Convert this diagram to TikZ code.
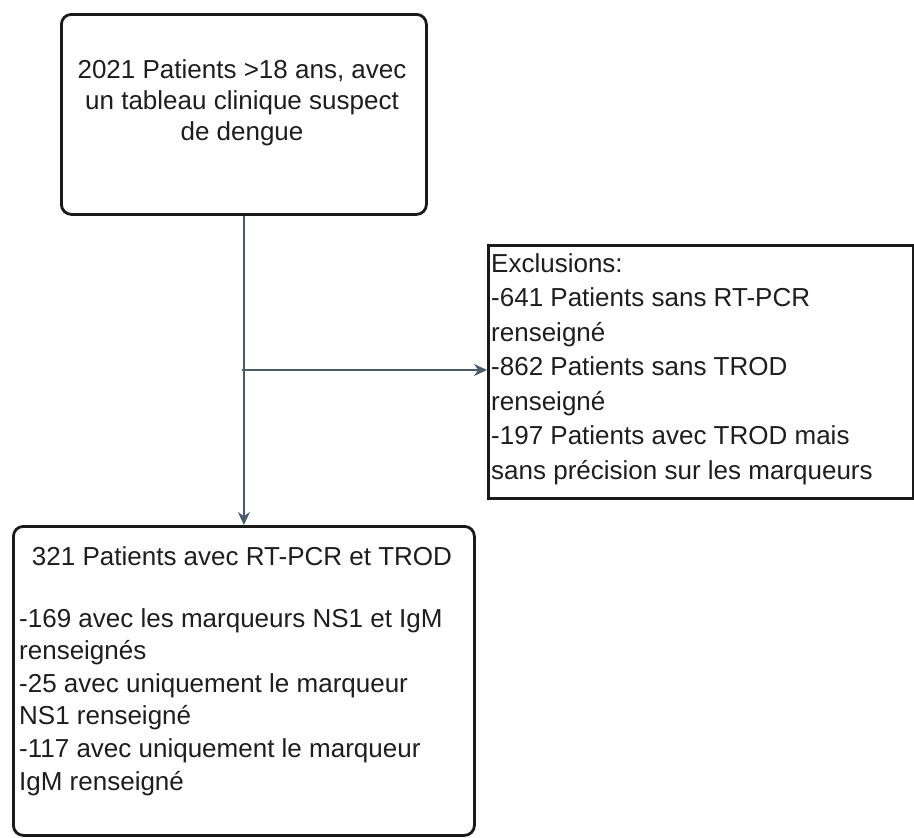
\documentclass[tikz,border=0pt]{standalone}
\usepackage{fontspec}
\setmainfont{Liberation Sans}
\usetikzlibrary{arrows.meta}
\definecolor{connc}{HTML}{4A5B6B}
\definecolor{boxc}{HTML}{1A1A1A}
\definecolor{txtc}{HTML}{1E1E1E}
\begin{document}
\begin{tikzpicture}[x=1pt,y=-1pt,
  boxline/.style={draw=boxc, line width=2.8pt, inner sep=0pt, fill=white},
  conn/.style={draw=connc, line width=1.8pt, -{Stealth[length=13pt,width=12pt]}},
  txt/.style={font=\fontsize{26}{31}\selectfont, inner sep=0pt, text=txtc}]
\useasboundingbox[fill=white] (0,0) rectangle (914,838);
% boxes
\node[boxline, rounded corners=10pt, minimum width=365pt, minimum height=200pt, anchor=north west] (top) at (60,13) {};
\node[boxline, minimum width=425pt, minimum height=253pt, anchor=north west] (excl) at (487,244) {};
\node[boxline, rounded corners=10pt, minimum width=461pt, minimum height=309pt, anchor=north west] (bot) at (12,525) {};
% texts
\node[txt, align=center, anchor=north] (toptxt) at (242,59)
  {2021 Patients >18 ans, avec\\un tableau clinique suspect\\de dengue};
\node[txt, font=\fontsize{26}{34.5}\selectfont, align=left, anchor=north west] (excltxt) at (491,253)
  {Exclusions:\\-641 Patients sans RT-PCR\\renseigné\\-862 Patients sans TROD\\renseigné\\-197 Patients avec TROD mais\\sans précision sur les marqueurs};
\node[txt, anchor=north] (bottitle) at (242,546) {321 Patients avec RT-PCR et TROD};
\node[txt, font=\fontsize{26}{32.6}\selectfont, align=left, anchor=north west] (botlist) at (19,608)
  {-169 avec les marqueurs NS1 et IgM\\renseignés\\-25 avec uniquement le marqueur\\NS1 renseigné\\-117 avec uniquement le marqueur\\IgM renseigné};
% connectors
\coordinate (j) at (242,370);
\draw[conn] (top.south) -- (bot.north);
\draw[conn] (j) -- (j -| excl.west);
\end{tikzpicture}
\end{document}
